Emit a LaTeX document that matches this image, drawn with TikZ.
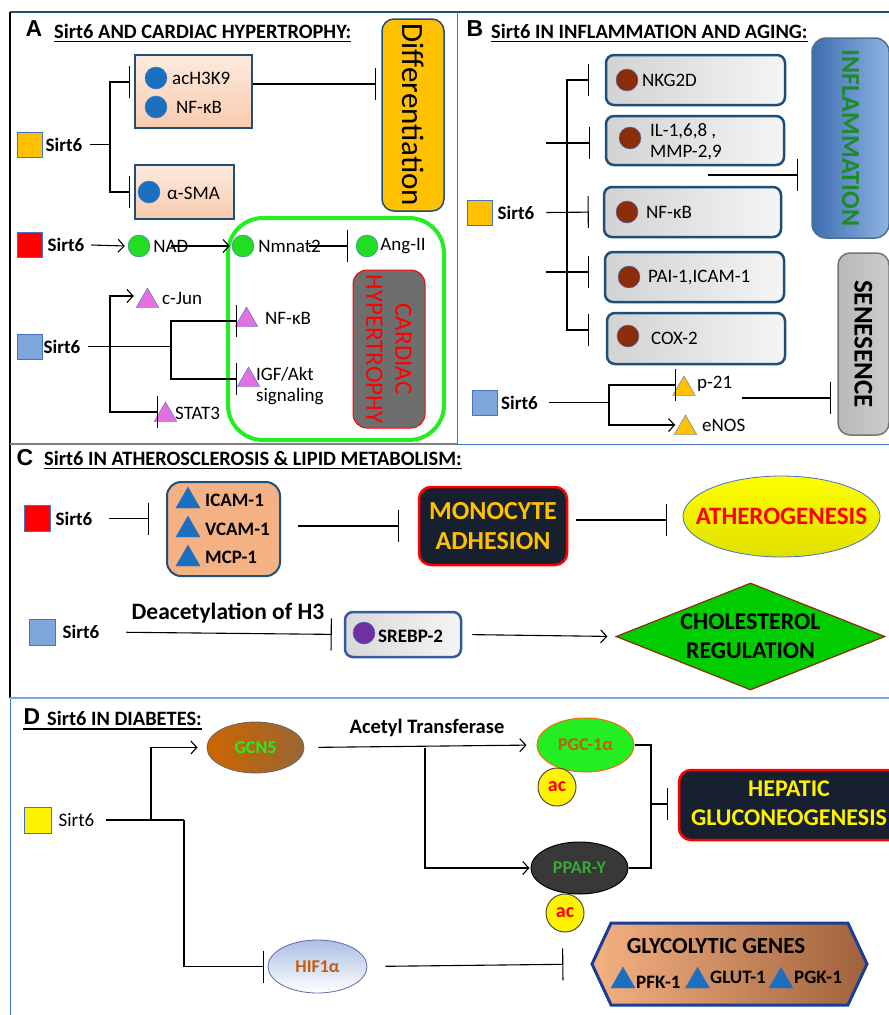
\documentclass[tikz,border=0pt]{standalone}
\usepackage{fontspec}
\setmainfont{Carlito}
\newfontfamily\letterfont{Liberation Sans}
\usetikzlibrary{arrows.meta,shapes.geometric,shapes.symbols,positioning}

\definecolor{amber}{HTML}{FFC000}
\definecolor{frameblue}{HTML}{1F4E79}
\definecolor{dotblue}{HTML}{1A6FBF}
\definecolor{peach}{HTML}{F8CBAD}
\definecolor{salmon}{HTML}{F4B183}
\definecolor{rust}{HTML}{8B2C0B}
\definecolor{pinktri}{HTML}{E46FE0}
\definecolor{nadgreen}{HTML}{22DD22}
\definecolor{limegreen}{HTML}{22EE22}
\definecolor{skyblue}{HTML}{7EA6DA}
\definecolor{navybox}{HTML}{17202E}
\definecolor{copper}{HTML}{A0623C}
\definecolor{plum}{HTML}{7030A0}
\definecolor{rimblue}{HTML}{4472C4}
\definecolor{leafgreen}{HTML}{1E8B2A}
\definecolor{inkred}{HTML}{C55A11}
\definecolor{cholgreen}{HTML}{00CC00}
\definecolor{infdark}{HTML}{3E6DB0}
\definecolor{inflight}{HTML}{8DB4E2}

\tikzset{
  sqr/.style={draw=rimblue, line width=0.8pt, minimum size=25pt, inner sep=0pt},
  boldtxt/.style={font=\bfseries\fontsize{19}{21}\selectfont, inner sep=0pt, anchor=west},
  lbltxt/.style={font=\fontsize{19}{21}\selectfont, inner sep=0pt, anchor=west},
  dotnode/.style={circle, minimum size=22pt, inner sep=0pt, draw=rimblue, line width=0.4pt},
  trinode/.style={regular polygon, regular polygon sides=3, minimum size=26pt, inner sep=0pt, draw=rimblue, line width=0.4pt},
  headtxt/.style={font=\bfseries\fontsize{20.4}{22}\selectfont, inner sep=0pt, anchor=west},
  panelno/.style={font=\letterfont\bfseries\fontsize{23}{23}\selectfont, inner sep=0pt},
  inh/.style={-{Bar[width=32pt]}, line width=1.1pt},
  act/.style={-{Straight Barb[length=6pt,width=13pt]}, line width=1.1pt},
  peachbox/.style={draw=frameblue, line width=2.5pt, top color=peach!40, bottom color=peach, inner sep=0pt},
  graybox/.style={draw=frameblue, line width=2.5pt, rounded corners=8pt, left color=gray!35, right color=gray!8, inner sep=0pt},
  bigtxt/.style={font=\bfseries\fontsize{24}{29}\selectfont, align=center, inner sep=0pt},
  acdot/.style={circle, minimum size=38pt, inner sep=0pt, draw=black!70, line width=1pt, fill=yellow, text=red, font=\bfseries\fontsize{20}{20}\selectfont},
}

\begin{document}
\begin{tikzpicture}[x=1pt,y=-1pt]
\useasboundingbox (0,0) rectangle (889,1015);
\fill [white] (0,0) rectangle (889,1015);

\draw [line width=1.5pt, frameblue] (10,12) -- (889,12);
\draw [line width=2.5pt] (10,12) -- (10,698);
\draw [line width=1pt, rimblue] (10,698) -- (10,1015);
\draw [line width=1pt, rimblue] (457,12) -- (457,444) -- (889,444);
\draw [line width=1.5pt, gray] (10,444) -- (457,444);
\draw [line width=1.5pt, skyblue] (10,698) -- (889,698);

\node (letA) [panelno] at (34,29) {A};
\node (headA) [headtxt] at (54,31) {Sirt6 AND CARDIAC HYPERTROPHY:};
\draw [line width=1.3pt] ([yshift=-3pt]headA.south west) -- ([yshift=-3pt]headA.south east);
\node (diffbox) [draw=frameblue, line width=1.5pt, fill=amber, rounded corners=12pt, minimum width=62pt, minimum height=192pt] at (413,115) {};
\node (difftxt) [rotate=-90, font=\fontsize{31}{31}\selectfont] at (diffbox.center) {Differentiation};
\node (sqA1) [sqr, fill=amber] at (29.5,144.5) {};
\node (sirtA1) [boldtxt, right=3pt of sqA1] {Sirt6};
\node (boxA1) [peachbox, minimum width=117pt, minimum height=73pt] at (193.5,91.5) {};
\node (dotA1) [dotnode, fill=dotblue] at (156,78) {};
\node (achk) [lbltxt] at (172,78) {acH3K9};
\node (dotA2) [dotnode, fill=dotblue] at (156,107) {};
\node (nfkA1) [lbltxt] at (176,107) {NF-κB};
\node (boxA2) [peachbox, minimum width=99pt, minimum height=54pt] at (184.5,192) {};
\node (dotA3) [dotnode, fill=dotblue] at (149,192) {};
\node (smaA) [lbltxt] at (167,193) {α-SMA};
\coordinate (brA1) at (110,144.5);
\draw [line width=1.1pt] ([xshift=8pt]sirtA1.east) -- (brA1);
\draw [inh, shorten >=4pt] (brA1) |- (boxA1.west |- 0,82);
\draw [inh, shorten >=4pt] (brA1) |- (boxA2.west);
\draw [inh, shorten >=5pt] (boxA1.east |- 0,84) -- (diffbox.west |- 0,84);

\node (cardframe) [draw=limegreen, line width=4pt, rounded corners=35pt, minimum width=216pt, minimum height=222pt] at (336,329) {};
\node (cardbox) [draw=red, line width=1pt, fill=black!57, rounded corners=14pt, minimum width=72pt, minimum height=158pt] at (389,349) {};
\node (cardtxt) [rotate=-90, text=red, font=\fontsize{25}{29}\selectfont, align=center] at (cardbox.center) {CARDIAC\\HYPERTROPHY};

\node (sqA2) [sqr, fill=red] at (29.5,245) {};
\node (sirtA2) [boldtxt, right=5pt of sqA2] {Sirt6};
\node (dotNAD) [dotnode, fill=nadgreen] at (139,246) {};
\node (nad) [lbltxt, right=3pt of dotNAD] {NAD};
\node (dotNm) [dotnode, fill=nadgreen] at (243,246) {};
\node (nmnat) [lbltxt, right=4pt of dotNm] {Nmnat2};
\node (dotAng) [dotnode, fill=nadgreen] at (367,246) {};
\node (angii) [lbltxt, right=2pt of dotAng] {Ang-II};
\draw [act] ([xshift=7pt]sirtA2.east) -- ([xshift=-3pt]dotNAD.west);
\draw [act] ([xshift=-18pt]nad.east) -- ([xshift=-2pt]dotNm.west);
\draw [inh] ([xshift=-12pt]nmnat.east) -- ([xshift=-8pt]dotAng.west);

\node (sqA3) [sqr, fill=skyblue] at (29.5,346.5) {};
\node (sirtA3) [boldtxt, right=1pt of sqA3] {Sirt6};
\node (triJun) [trinode, fill=pinktri] at (147.5,301) {};
\node (cjun) [lbltxt] at (162,298) {c-Jun};
\node (triStat) [trinode, fill=pinktri] at (165.5,415) {};
\node (stat) [lbltxt] at (175,413) {STAT3};
\node (triNFA) [trinode, fill=pinktri] at (246.5,320) {};
\node (nfkA2) [lbltxt] at (265,318) {NF-κB};
\node (triIGF) [trinode, fill=pinktri] at (248.5,380) {};
\node (igf) [lbltxt, align=left] at (256,386) {IGF/Akt\\signaling};
\coordinate (brA2) at (110,346.5);
\coordinate (brA3) at (171,346.5);
\draw [line width=1.1pt] ([xshift=8pt]sirtA3.east) -- (brA3);
\draw [act, shorten >=6pt] (brA2) |- (triJun.west |- 0,296);
\draw [inh] (brA2) |- (triStat.west |- 0,412);
\draw [inh, shorten >=1.5pt] (brA3) |- (triNFA.west |- 0,321);
\draw [inh, shorten >=3.5pt] (brA3) |- (triIGF.west |- 0,379);

\node (letB) [panelno] at (475,29) {B};
\node (headB) [headtxt] at (491,31) {Sirt6 IN INFLAMMATION AND AGING:};
\draw [line width=1.3pt] ([yshift=-3pt]headB.south west) -- ([yshift=-3pt]headB.south east);
\node (inflbox) [draw=frameblue!80, line width=1.5pt, rounded corners=14pt, left color=infdark, right color=inflight, minimum width=77pt, minimum height=200pt] at (850.5,138) {};
\node (infltxt) [rotate=-90, text=leafgreen, font=\bfseries\fontsize{26}{26}\selectfont] at (inflbox.center) {INFLAMMATION};
\node (senbox) [draw=black!55, line width=1.5pt, rounded corners=12pt, left color=gray!55, right color=gray!40, minimum width=51pt, minimum height=182pt] at (863.5,344) {};
\node (sentxt) [rotate=-90, font=\bfseries\fontsize{27}{27}\selectfont] at (senbox.center) {SENESENCE};

\node (sqB1) [sqr, fill=amber] at (479.5,212.5) {};
\node (sirtB1) [boldtxt, right=5pt of sqB1] {Sirt6};
\node (boxNK) [graybox, minimum width=179pt, minimum height=50pt] at (695.5,80) {};
\node (dotNK) [dotnode, fill=rust] at (627,80) {};
\node (nkg) [lbltxt] at (642,80) {NKG2D};
\node (boxIL) [graybox, minimum width=178pt, minimum height=49pt] at (695,140.5) {};
\node (dotIL) [dotnode, fill=rust] at (630,138) {};
\node (ilt) [lbltxt, align=left] at (650,142) {IL-1,6,8 ,\\MMP-2,9};
\node (boxNF) [graybox, minimum width=177pt, minimum height=50pt] at (692.5,212) {};
\node (dotNF) [dotnode, fill=rust] at (627,212) {};
\node (nfkB) [lbltxt] at (646,212) {NF-κB};
\node (boxPAI) [graybox, minimum width=179pt, minimum height=50pt] at (694.5,277) {};
\node (dotPAI) [dotnode, fill=rust] at (629,277) {};
\node (pai) [lbltxt] at (648,278) {PAI-1,ICAM-1};
\node (boxCOX) [graybox, minimum width=178pt, minimum height=51pt] at (696,338.5) {};
\node (dotCOX) [dotnode, fill=rust] at (628,336) {};
\node (cox) [lbltxt] at (651,338) {COX-2};
\coordinate (brB) at (567,212);
\coordinate (ilB) at (546,143);
\coordinate (paiB) at (546,272);
\coordinate (inflB) at (708,175);
\draw [inh, shorten >=14pt] ([xshift=12pt]sirtB1.east) -- (boxNF.west);
\draw [inh, shorten >=16pt] (brB) |- (boxNK.west);
\draw [inh, shorten >=17pt] (brB) |- (boxCOX.west |- 0,330);
\draw [inh, shorten >=15pt] (ilB) -- (boxIL.west |- ilB);
\draw [inh, shorten >=15pt] (paiB) -- (boxPAI.west |- paiB);
\draw [inh, shorten >=13pt] (inflB) -- (inflbox.west |- inflB);

\node (sqB2) [sqr, fill=skyblue] at (485,402.5) {};
\node (sirtB2) [boldtxt, right=3pt of sqB2] {Sirt6};
\node (triP21) [trinode, fill=amber] at (684,389) {};
\node (p21) [lbltxt] at (697,384) {p-21};
\node (triNOS) [trinode, fill=amber] at (685.5,428) {};
\node (enos) [lbltxt] at (702,425) {eNOS};
\coordinate (brB2) at (609,402.5);
\coordinate (senB) at (742,398);
\draw [line width=1.1pt] ([xshift=11pt]sirtB2.east) -- (brB2);
\draw [inh] (brB2) |- (triP21.west |- 0,385);
\draw [act, shorten >=2.5pt] (brB2) |- (triNOS.west |- 0,425);
\draw [inh, shorten >=6pt] (senB) -- (senbox.west |- senB);

\node (letC) [panelno] at (25,458) {C};
\node (headC) [headtxt] at (44,458) {Sirt6 IN ATHEROSCLEROSIS \& LIPID METABOLISM:};
\draw [line width=1.3pt] ([yshift=-3pt]headC.south west) -- ([yshift=-3pt]headC.south east);
\node (sqC1) [sqr, fill=red, minimum size=26pt] at (37,518.5) {};
\node (sirtC1) [boldtxt, right=5pt of sqC1] {Sirt6};
\node (icbox) [draw=frameblue, line width=2pt, fill=salmon, rounded corners=14pt, minimum width=113pt, minimum height=94pt] at (223.5,529) {};
\node (triIC) [trinode, fill=dotblue, minimum size=28pt] at (188,501) {};
\node (icam) [boldtxt] at (205,500) {ICAM-1};
\node (triVC) [trinode, fill=dotblue, minimum size=28pt] at (188,530) {};
\node (vcam) [boldtxt] at (205,529) {VCAM-1};
\node (triMC) [trinode, fill=dotblue, minimum size=28pt] at (188,559) {};
\node (mcp) [boldtxt] at (205,557) {MCP-1};
\node (monobox) [draw=red, line width=2.5pt, fill=navybox, rounded corners=12pt, minimum width=148pt, minimum height=78pt, text=amber, font=\bfseries\fontsize{26}{30}\selectfont, align=center, inner sep=0pt] at (493,526) {MONOCYTE\\ADHESION};
\node (athero) [ellipse, draw=rimblue, line width=0.8pt, top color=yellow, bottom color=yellow!88!black, minimum width=197pt, minimum height=81pt, inner sep=0pt] at (781.5,516.5) {};
\node (athtxt) [text=red, font=\bfseries\fontsize{25}{25}\selectfont, inner sep=0pt] at (athero.center) {ATHEROGENESIS};
\draw [inh, shorten <=17pt, shorten >=17pt] (sirtC1.east) -- (icbox.west |- sirtC1.east);
\draw [inh, shorten <=17pt, shorten >=19pt] (icbox.east |- monobox.west) -- (monobox.west);
\draw [inh, shorten <=8pt, shorten >=16pt] (monobox.east |- 0,520) -- (athero.west |- 0,520);

\node (sqC2) [sqr, fill=skyblue, minimum size=26pt] at (42,632) {};
\node (sirtC2) [boldtxt, right=7pt of sqC2] {Sirt6};
\node (deac) [font=\bfseries\fontsize{23.5}{23.5}\selectfont, inner sep=0pt] at (228,613) {Deacetylation of H3};
\node (srebox) [draw=rimblue!80!black, line width=2.5pt, rounded corners=8pt, left color=gray!30, right color=gray!8, minimum width=116pt, minimum height=45pt] at (403,634.5) {};
\node (dotSR) [dotnode, fill=plum] at (364,633) {};
\node (srebp) [boldtxt] at (378,636) {SREBP-2};
\node (chol) [diamond, draw=rust, line width=1.2pt, fill=cholgreen, minimum width=269pt, minimum height=107pt, inner sep=0pt] at (750.5,636.5) {};
\node (choltxt) [bigtxt] at (chol.center) {CHOLESTEROL\\REGULATION};
\draw [inh, shorten <=27pt, shorten >=12pt] (sirtC2.east) -- (srebox.west);
\draw [act, shorten <=10pt, shorten >=8pt] (srebox.east) -- (chol.west);

\node (letD) [panelno] at (32,717) {D};
\node (headD) [headtxt] at (47,718) {Sirt6 IN DIABETES:};
\draw [line width=1.3pt] (letD.west |- 0,729) -- (headD.east |- 0,729);
\node (sqD) [sqr, fill=yellow, minimum width=27pt, minimum height=26pt] at (37.5,820) {};
\node (sirtD) [lbltxt, right=7pt of sqD] {Sirt6};
\node (gcn) [ellipse, draw=black!60, line width=0.8pt, left color=orange!80!black, right color=brown!80!black, minimum width=97pt, minimum height=51pt, inner sep=0pt, text=limegreen, font=\bfseries\fontsize{18}{18}\selectfont] at (255.5,747.5) {GCN5};
\node (hif) [ellipse, draw=black!50!blue!60, line width=0.8pt, top color=rimblue!45, bottom color=white, minimum width=99pt, minimum height=53pt, inner sep=0pt, text=inkred, font=\bfseries\fontsize{18}{18}\selectfont] at (317.5,966.5) {HIF1α};
\node (acetyl) [font=\bfseries\fontsize{20.5}{20.5}\selectfont, inner sep=0pt] at (427,728) {Acetyl Transferase};
\node (pgc) [ellipse, draw=orange!80!red, line width=1pt, fill=limegreen, minimum width=97pt, minimum height=54pt, inner sep=0pt, text=inkred, font=\bfseries\fontsize{18}{18}\selectfont] at (585.5,745) {PGC-1α};
\node (ac1) [acdot] at (557,787) {ac};
\node (ppar) [ellipse, draw=black, line width=1pt, fill=black!78, minimum width=97pt, minimum height=52pt, inner sep=0pt, text=green!60!black!80!white, font=\bfseries\fontsize{18}{18}\selectfont] at (579.5,868) {PPAR-Y};
\node (ac2) [acdot] at (565,913) {ac};
\node (hepbox) [draw=red, line width=2.5pt, fill=navybox, rounded corners=12pt, minimum width=226pt, minimum height=70pt] at (792,805) {};
\node (heptxt) [bigtxt, text=yellow] at (789,803.5) {HEPATIC\\GLUCONEOGENESIS};
\node (glyco) [signal, signal to=west and east, signal pointer angle=130, draw=frameblue!80!blue, line width=3pt, left color=salmon, right color=copper, minimum width=275pt, minimum height=82pt, inner sep=0pt] at (729.5,964) {};
\node (glytxt) [font=\bfseries\fontsize{23}{23}\selectfont, inner sep=0pt] at (716,946) {GLYCOLYTIC GENES};
\node (triPF) [trinode, fill=dotblue, minimum size=28pt] at (623,981) {};
\node (pfk) [boldtxt] at (636,982) {PFK-1};
\node (triGL) [trinode, fill=dotblue, minimum size=28pt] at (697.5,981) {};
\node (glut) [boldtxt] at (710,977) {GLUT-1};
\node (triPG) [trinode, fill=dotblue, minimum size=28pt] at (781,981) {};
\node (pgk) [boldtxt] at (794,977) {PGK-1};
\coordinate (brD1) at (151,820);
\coordinate (brD2) at (184,820);
\coordinate (brD3) at (425,748);
\coordinate (brD4) at (651,804);
\draw [line width=1.1pt] ([xshift=11pt]sirtD.east) -- (brD2);
\draw [act, shorten >=9pt] (brD1) |- (gcn.west);
\draw [inh, shorten >=4pt] (brD2) |- (hif.west);
\draw [inh, shorten <=18pt, shorten >=27pt] (hif.east) -- (glyco.west);
\draw [act, shorten <=14pt, shorten >=10pt] (gcn.east) -- (pgc.west);
\draw [act, shorten >=1pt] (brD3) |- (ppar.west);
\draw [line width=1.1pt] (pgc.east) -| (brD4);
\draw [line width=1.1pt] (ppar.east) -| (brD4);
\draw [inh, shorten >=10pt] (brD4) -- (hepbox.west |- brD4);
\end{tikzpicture}
\end{document}
